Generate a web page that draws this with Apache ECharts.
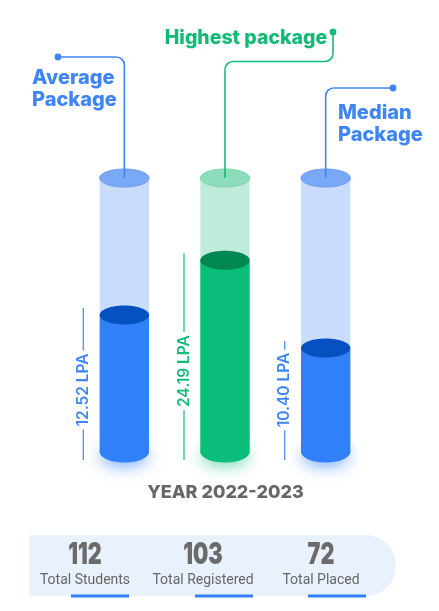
<!DOCTYPE html>
<html><head><meta charset="utf-8">
<script src="https://cdn.jsdelivr.net/npm/echarts@6/dist/echarts.min.js"></script>
<style>html,body{margin:0;padding:0;background:#fff}#c{width:439px;height:611px}</style>
</head><body><div id="c"></div>
<script>
// ---------- data ----------
const categories = ['Average Package', 'Highest package', 'Median Package'];
const categoryTitles = ['Average\nPackage', 'Highest package', 'Median\nPackage'];
const packageLPA = [12.52, 24.19, 10.40];
// visual fill level of each tube (% of tube height), as drawn in the picture
const fillLevel = [50, 70, 38];
const yearLabel = 'YEAR 2022-2023';
const statValues = [112, 103, 72];
const statLabels = ['Total Students', 'Total Registered', 'Total Placed'];

// ---------- styles ----------
const BLUE = {fill:'#3180f8', dark:'#0551c1', tube:'#c9dcfb', cap:'#78a8f6', capEdge:'#6c9cef', text:'#3e85f6', glow:'rgba(49,128,248,0.7)'};
const GREEN = {fill:'#0abd7b', dark:'#008752', tube:'#bfebdb', cap:'#8cddbb', capEdge:'#7fd3ae', text:'#17bb78', glow:'rgba(10,189,123,0.6)'};
const themes = [BLUE, GREEN, BLUE];
const FONT_HEAD = 'Inter, "Noto Sans", sans-serif';

const chart = echarts.init(document.getElementById('c'), null, {renderer:'canvas'});

function leader(i, cx, topY, color) {
  const r = 8, els = [];
  const ls = {stroke: color, lineWidth: 1.6, fill: 'none'};
  let dot;
  if (i === 0) {
    const dx = 58, dy = 57;
    dot = [dx, dy];
    els.push({type:'line', shape:{x1:dx, y1:dy, x2:cx - r, y2:dy}, style:ls});
    els.push({type:'arc', shape:{cx:cx - r, cy:dy + r, r, startAngle:-Math.PI/2, endAngle:0, clockwise:true}, style:ls});
    els.push({type:'line', shape:{x1:cx, y1:dy + r, x2:cx, y2:topY}, style:ls});
  } else if (i === 1) {
    const dx = 333, dy = 32, hy = 61.5;
    dot = [dx, dy];
    els.push({type:'line', shape:{x1:dx, y1:dy, x2:dx, y2:hy - r}, style:ls});
    els.push({type:'arc', shape:{cx:dx - r, cy:hy - r, r, startAngle:0, endAngle:Math.PI/2, clockwise:true}, style:ls});
    els.push({type:'line', shape:{x1:dx - r, y1:hy, x2:cx + r, y2:hy}, style:ls});
    els.push({type:'arc', shape:{cx:cx + r, cy:hy + r, r, startAngle:-Math.PI/2, endAngle:-Math.PI, clockwise:false}, style:ls});
    els.push({type:'line', shape:{x1:cx, y1:hy + r, x2:cx, y2:topY}, style:ls});
  } else {
    const dx = 393, dy = 88;
    dot = [dx, dy];
    els.push({type:'line', shape:{x1:dx, y1:dy, x2:cx + r, y2:dy}, style:ls});
    els.push({type:'arc', shape:{cx:cx + r, cy:dy + r, r, startAngle:-Math.PI/2, endAngle:-Math.PI, clockwise:false}, style:ls});
    els.push({type:'line', shape:{x1:cx, y1:dy + r, x2:cx, y2:topY}, style:ls});
  }
  els.push({type:'circle', shape:{cx:dot[0], cy:dot[1], r:3.4}, style:{fill:color}});
  return els;
}

function renderItem(params, api) {
  const i = api.value(0);
  const v = api.value(1);
  const lpa = api.value(2);
  const base = api.coord([i, 0]);
  const top = api.coord([i, 100]);
  const lvl = api.coord([i, v]);
  const bw = api.size([1, 0])[0] * 0.49;
  const rx = bw / 2, ry = 9.5;
  const cx = base[0];
  const th = themes[i];
  const ch = [];
  // glow under the base
  ch.push({type:'ellipse', shape:{cx, cy:base[1] + 1, rx:rx - 1, ry:ry}, style:{fill:th.fill, shadowBlur:16, shadowColor:th.glow, shadowOffsetY:3}});
  // empty tube
  ch.push({type:'rect', shape:{x:cx - rx, y:top[1], width:bw, height:base[1] - top[1]}, style:{fill:th.tube}});
  ch.push({type:'ellipse', shape:{cx, cy:top[1], rx, ry:ry - 0.5}, style:{fill:th.cap, stroke:th.capEdge, lineWidth:1}});
  // filled part
  ch.push({type:'rect', shape:{x:cx - rx, y:lvl[1], width:bw, height:base[1] - lvl[1]}, style:{fill:th.fill}});
  ch.push({type:'ellipse', shape:{cx, cy:base[1], rx, ry}, style:{fill:th.fill}});
  ch.push({type:'ellipse', shape:{cx, cy:lvl[1], rx, ry}, style:{fill:th.dark}});
  // value line + rotated label
  const lx = cx - 41;
  const lineTop = lvl[1] - 7, lineBot = base[1] + 8;
  ch.push({type:'line', shape:{x1:lx, y1:lineTop, x2:lx, y2:lineBot}, style:{stroke:th.text, lineWidth:1.4, opacity:0.85}});
  const ly = Math.min(lineTop + 0.57 * (lineBot - lineTop), lineBot - 70);
  ch.push({type:'text', x:lx, y:ly, rotation:Math.PI/2, style:{
    text: lpa.toFixed(2) + ' LPA', align:'center', verticalAlign:'middle',
    fill: th.text, fontSize:15.5, fontWeight:600, fontFamily:FONT_HEAD,
    backgroundColor:'#fff', padding:[1, 3]
  }});
  // leader line to the title
  leader(i, cx, top[1], th.text).forEach(e => ch.push(e));
  return {type:'group', children:ch};
}

const graphics = [];
// titles
graphics.push({type:'text', x:32, y:88.5, style:{text:categoryTitles[0], align:'left', verticalAlign:'middle', lineHeight:22, fill:'#3e85f6', fontSize:20, fontWeight:800, fontFamily:FONT_HEAD}});
graphics.push({type:'text', x:246, y:38, style:{text:categoryTitles[1], align:'center', verticalAlign:'middle', fill:'#13ba76', fontSize:19.5, fontWeight:800, fontFamily:FONT_HEAD}});
graphics.push({type:'text', x:338, y:124, style:{text:categoryTitles[2], align:'left', verticalAlign:'middle', lineHeight:22.5, fill:'#3e85f6', fontSize:20, fontWeight:800, fontFamily:FONT_HEAD}});
// year
graphics.push({type:'text', x:225.5, y:493, style:{text:yearLabel, align:'center', verticalAlign:'middle', fill:'#676767', fontSize:18, fontWeight:800, fontFamily:FONT_HEAD}});
// stats panel
graphics.push({type:'rect', shape:{x:29, y:535, width:367, height:61, r:[0, 30, 30, 0]}, style:{fill:'#e9f1fd'}});
const underlineX = [71, 195, 308];
statValues.forEach((val, k) => {
  const cx = 85 + k * 118;
  graphics.push({type:'text', x:cx, y:554.5, scaleX:0.72, style:{text:String(val), align:'center', verticalAlign:'middle', fill:'#6b6b6b', fontSize:30, fontWeight:900, fontFamily:FONT_HEAD}});
  graphics.push({type:'text', x:cx, y:580, style:{text:statLabels[k], align:'center', verticalAlign:'middle', fill:'#666666', fontSize:14, fontWeight:400, fontFamily:'Roboto, sans-serif'}});
  graphics.push({type:'rect', shape:{x:underlineX[k], y:594.5, width:58, height:3}, style:{fill:'#3180f8'}});
});

chart.setOption({
  animation:false,
  backgroundColor:'#ffffff',
  grid:{left:74, width:302, top:178, bottom:159},
  xAxis:{type:'category', data:categories, show:false},
  yAxis:{type:'value', min:0, max:100, show:false},
  graphic:graphics,
  series:[{
    type:'custom',
    renderItem,
    data: fillLevel.map((v, i) => [i, v, packageLPA[i]]),
    encode:{x:0, y:1}
  }]
});
</script></body></html>
